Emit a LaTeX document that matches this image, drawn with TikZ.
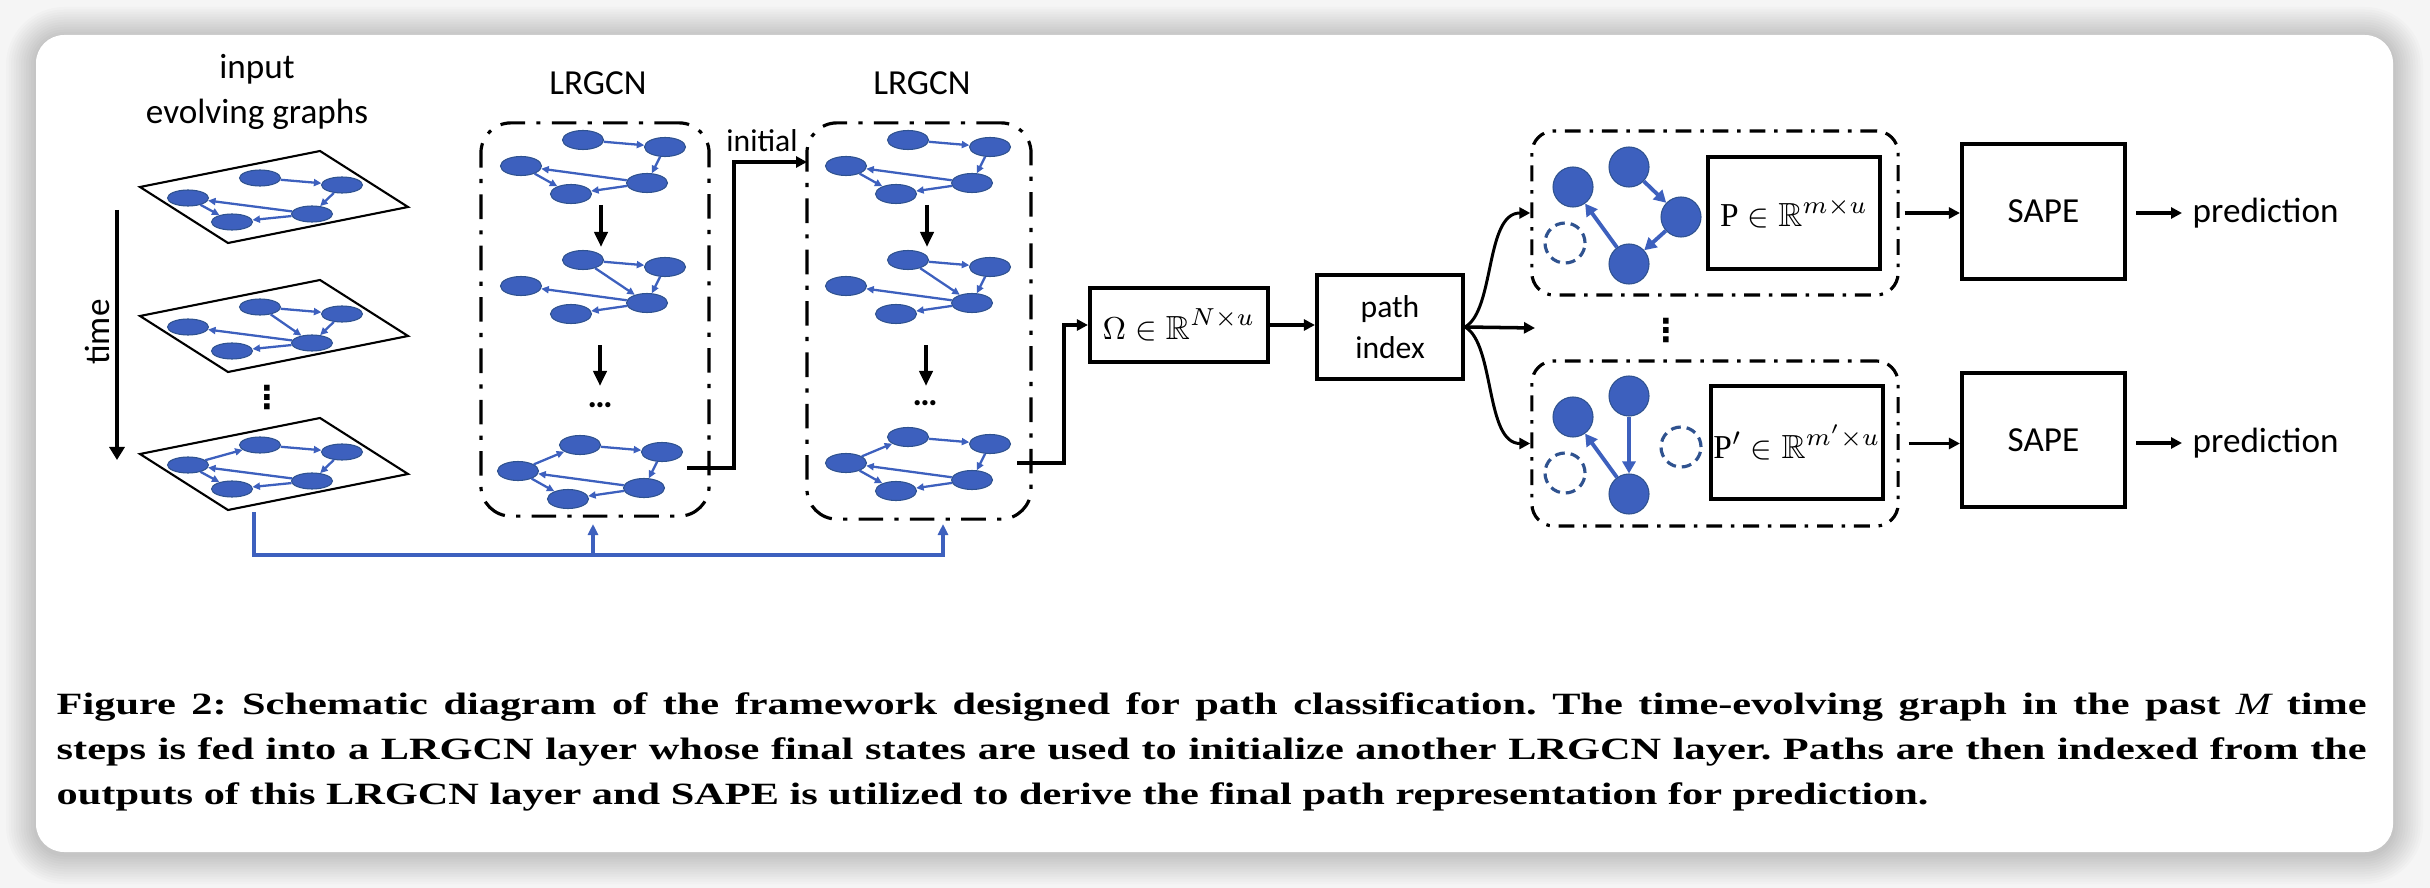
\documentclass[tikz,border=0pt]{standalone}
\usepackage{amssymb}
\usepackage{graphicx}
\usepackage{fontspec}
\setmainfont{Carlito}
\newfontfamily\capfont{Liberation Serif}
\newfontfamily\djv{DejaVu Sans}
\usetikzlibrary{arrows.meta,shapes.geometric}
\definecolor{nblue}{RGB}{61,96,190}
\definecolor{nline}{RGB}{47,82,143}
\definecolor{bgray}{RGB}{245,245,245}
\newcommand{\myvdots}{{\djv\bfseries\fontsize{9}{9}\selectfont ⋮}}
\newcommand{\planegraph}[2]{%
  \draw[plane] (320,#2) -- (408,#2+56) -- (228,#2+92) -- (140,#2+36) -- cycle;
  \node[pell] (#1a) at (260,#2+27) {};
  \node[pell] (#1b) at (342,#2+34) {};
  \node[pell] (#1c) at (188,#2+47) {};
  \node[pell] (#1d) at (312,#2+63) {};
  \node[pell] (#1e) at (232,#2+71) {};
}
\newcommand{\boxgraph}[3]{%
  \node[bell] (#1a) at (#2,#3) {};
  \node[bell] (#1b) at (#2+82,#3+7) {};
  \node[bell] (#1c) at (#2-62,#3+26) {};
  \node[bell] (#1d) at (#2+64,#3+43) {};
  \node[bell] (#1e) at (#2-12,#3+54) {};
}
\newcommand{\edgesA}[1]{%
  \draw[gedge] (#1a) -- (#1b); \draw[gedge] (#1b) -- (#1d);
  \draw[gedge] (#1d) -- (#1c); \draw[gedge] (#1c) -- (#1e);
  \draw[gedge] (#1d) -- (#1e);}
\newcommand{\edgesB}[1]{%
  \draw[gedge] (#1a) -- (#1b); \draw[gedge] (#1a) -- (#1d);
  \draw[gedge] (#1b) -- (#1d); \draw[gedge] (#1d) -- (#1c);
  \draw[gedge] (#1d) -- (#1e);}
\newcommand{\edgesC}[1]{%
  \draw[gedge] (#1c) -- (#1a); \draw[gedge] (#1a) -- (#1b);
  \draw[gedge] (#1b) -- (#1d); \draw[gedge] (#1d) -- (#1c);
  \draw[gedge] (#1c) -- (#1e); \draw[gedge] (#1d) -- (#1e);}
\begin{document}
\begin{tikzpicture}[x=0.01cm,y=-0.01cm,
  txt/.style={font=\fontsize{10}{12.8}\selectfont, inner sep=0},
  plane/.style={draw=black, line width=0.6pt},
  pell/.style={ellipse, fill=nblue, draw=nline, line width=0.3pt, minimum width=0.41cm, minimum height=0.16cm, inner sep=0},
  bell/.style={pell, minimum height=0.19cm},
  gedge/.style={draw=nblue, line width=0.65pt, -{Triangle[length=0.075cm,width=0.07cm]}},
  dbox/.style={draw, line width=0.9pt, rounded corners=0.3cm, dash pattern=on 7pt off 3.2pt on 1.2pt off 3.2pt, inner sep=0},
  sdbox/.style={draw, line width=0.9pt, rounded corners=0.22cm, dash pattern=on 4.5pt off 2.5pt on 1pt off 2.5pt, inner sep=0},
  sbox/.style={draw, line width=1.15pt, inner sep=0, align=center},
  conn/.style={line width=1pt, -{Triangle[length=0.11cm,width=0.11cm]}},
  downarr/.style={line width=1.2pt, -{Triangle[length=0.15cm,width=0.13cm]}},
  fb/.style={draw=nblue, line width=0.9pt},
  fbarr/.style={fb, -{Triangle[length=0.11cm,width=0.1cm]}},
  cnode/.style={circle, fill=nblue, draw=nline, line width=0.3pt, minimum size=0.40cm, inner sep=0},
  dnode/.style={circle, draw=nline, line width=0.9pt, dash pattern=on 2.8pt off 1.7pt, minimum size=0.40cm, inner sep=0},
  cedge/.style={draw=nblue, line width=1.1pt, -{Triangle[length=0.12cm,width=0.13cm]}},
]
\useasboundingbox (0,0) rectangle (2430,888);
% background card with shadow
\fill[bgray] (0,0) rectangle (2430,888);
\foreach \i in {1,...,12}{
  \pgfmathsetmacro\rr{0.28+0.025*\i}
  \fill[black,opacity=0.014,rounded corners=\rr cm] (36-2.5*\i,37-2.5*\i) rectangle (2393+2.5*\i,854+2.5*\i);
}
\fill[white,rounded corners=0.28cm] (36,35) rectangle (2393,852);

% titles
\node[txt, align=center] (inlbl) at (257,92) {input\\evolving graphs};
\node[txt] (lrt1) at (598,83) {LRGCN};
\node[txt] (lrt2) at (922,83) {LRGCN};

% input planes
\planegraph{pa}{151}\edgesA{pa}
\planegraph{pb}{280}\edgesB{pb}
\planegraph{pc}{418}\edgesC{pc}
\node[txt] (vd1) at (267,398) {\myvdots};
\coordinate (t0) at (117,210);
\coordinate (t1) at (117,460);
\draw[line width=1.2pt, -{Triangle[length=0.13cm,width=0.15cm]}] (t0) -- (t1);
\node[txt, rotate=90] (time) at (97,332) {time};

% LRGCN box 1
\node[dbox, minimum width=2.28cm, minimum height=3.93cm] (lr1) at (595,319.5) {};
\boxgraph{ga}{583}{140}\edgesA{ga}
\boxgraph{gb}{583}{260}\edgesB{gb}
\boxgraph{gc}{580}{445}\edgesC{gc}
\coordinate (da1) at (601,205); \coordinate (da2) at (601,247);
\draw[downarr] (da1) -- (da2);
\coordinate (da3) at (600,345); \coordinate (da4) at (600,386);
\draw[downarr] (da3) -- (da4);
\node[txt] (el1) at (600,405) {\textbf{…}};

% LRGCN box 2
\node[dbox, minimum width=2.24cm, minimum height=3.96cm] (lr2) at (919,321) {};
\boxgraph{gd}{908}{140}\edgesA{gd}
\boxgraph{ge}{908}{260}\edgesB{ge}
\boxgraph{gf}{908}{437}\edgesC{gf}
\coordinate (db1) at (927,205); \coordinate (db2) at (927,247);
\draw[downarr] (db1) -- (db2);
\coordinate (db3) at (926,345); \coordinate (db4) at (926,386);
\draw[downarr] (db3) -- (db4);
\node[txt] (el2) at (925,403) {\textbf{…}};

% initial connector
\coordinate (o1) at (687,468);
\coordinate (in2) at (807,162);
\draw[conn] (o1) -- ++(47,0) |- (in2);
\node[txt, font=\fontsize{9}{11}\selectfont] (initlbl) at (762,141) {initial};

% Omega and path index
\node[sbox, minimum width=1.78cm, minimum height=0.74cm, font=\fontsize{9.5}{11}\selectfont] (om) at (1179,325) {$\Omega\in\mathbb{R}^{N\times u}$};
\coordinate (o2) at (1017,463);
\draw[conn] (o2) -- ++(47,0) |- (om.west);
\node[sbox, minimum width=1.46cm, minimum height=1.04cm, font=\fontsize{9}{11.5}\selectfont] (pi) at (1390,327) {path\\index};
\draw[conn] (om.east) -- (om.east -| pi.west);

% path boxes
\node[sdbox, minimum width=3.66cm, minimum height=1.64cm] (ub) at (1715,213) {};
\node[sdbox, minimum width=3.66cm, minimum height=1.65cm] (lb) at (1715,443.5) {};
\node[sbox, minimum width=1.72cm, minimum height=1.12cm, font=\fontsize{9.5}{11}\selectfont] (pb1) at (1794,213) {$\mbox{\capfont P}\in\mathbb{R}^{m\times u}$};
\node[sbox, minimum width=1.72cm, minimum height=1.13cm, font=\fontsize{9.5}{11}\selectfont] (pb2) at (1797,442.5) {$\mbox{\capfont P}'\in\mathbb{R}^{m'\times u}$};
\node[cnode] (c1) at (1573,187) {};
\node[cnode] (c2) at (1629,167) {};
\node[cnode] (c3) at (1681,217) {};
\node[cnode] (c4) at (1629,264) {};
\node[dnode] (dc1) at (1565,243) {};
\draw[cedge] (c2) -- (c3);
\draw[cedge] (c3) -- (c4);
\draw[cedge] (c4) -- (c1);
\node[cnode] (d1) at (1573,417) {};
\node[cnode] (d2) at (1629,396) {};
\node[cnode] (d3) at (1629,494) {};
\node[dnode] (dd1) at (1565,473) {};
\node[dnode] (dd2) at (1681,447) {};
\draw[cedge] (d2) -- (d3);
\draw[cedge] (d3) -- (d1);
\node[txt] (vd2) at (1666,331) {\myvdots};

% fan out
\coordinate (mid) at (1535,328);
\draw[conn] (pi.east) -- (mid);
\draw[conn, line width=0.85pt] (pi.east) .. controls (1495,310) and (1485,213) .. (ub.west);
\draw[conn, line width=0.85pt] (pi.east) .. controls (1495,344) and (1485,443.5) .. (lb.west);

% SAPE
\node[sbox, minimum width=1.63cm, minimum height=1.35cm, font=\fontsize{10}{12}\selectfont] (s1) at (2043.5,211.5) {SAPE};
\node[sbox, minimum width=1.63cm, minimum height=1.34cm, font=\fontsize{10}{12}\selectfont] (s2) at (2043.5,440) {SAPE};
\draw[conn, shorten <=0.05cm] (ub.east) -- (ub.east -| s1.west);
\draw[conn, shorten <=0.09cm] (lb.east) -- (lb.east -| s2.west);
\node[txt, anchor=west] (pr1) at (2192,213) {prediction};
\node[txt, anchor=west] (pr2) at (2192,443) {prediction};
\draw[conn, shorten <=0.09cm, shorten >=0.1cm] (s1.east |- pr1.west) -- (pr1.west);
\draw[conn, shorten <=0.09cm, shorten >=0.1cm] (s2.east |- pr2.west) -- (pr2.west);

% feedback
\coordinate (fb0) at (254,512);
\coordinate (fbc) at (254,555);
\coordinate (fb1) at (593,524);
\coordinate (fb2) at (943,524);
\draw[fbarr] (fb0) -- (fbc) -| (fb2);
\draw[fbarr] (fbc -| fb1) -- (fb1);

% caption
\node[anchor=north west, inner sep=0] (cap) at (56,692) {\scalebox{1.3685}[1]{\parbox{480pt}{\capfont\bfseries\frenchspacing\fontsize{8.8}{12.8}\selectfont Figure 2: Schematic diagram of the framework designed for path classification. The time-evolving graph in the past {\mdseries\itshape M} time\linebreak steps is fed into a LRGCN layer whose final states are used to initialize another LRGCN layer. Paths are then indexed from the\linebreak outputs of this LRGCN layer and SAPE is utilized to derive the final path representation for prediction.}}};
\end{tikzpicture}
\end{document}
